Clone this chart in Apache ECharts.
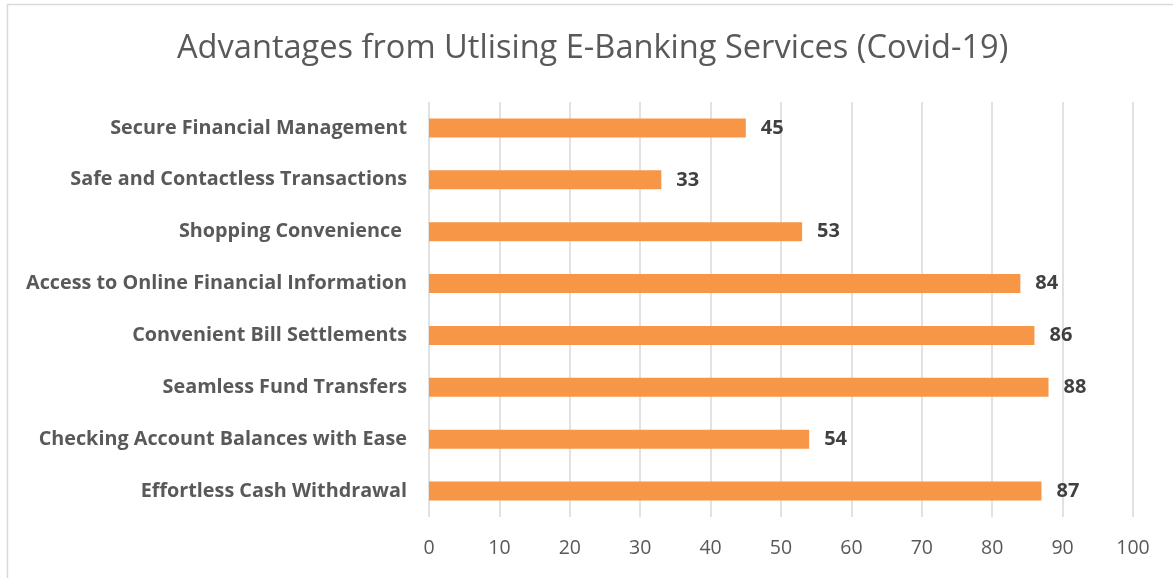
<!DOCTYPE html>
<html><head><meta charset="utf-8">
<script src="https://cdn.jsdelivr.net/npm/echarts@6/dist/echarts.min.js"></script>
<style>html,body{margin:0;padding:0;background:#fff;}#c{width:1173px;height:578px;}</style>
</head><body><div id="c"></div>
<script>
const titleText = 'Advantages from Utlising E-Banking Services (Covid-19)';
const categories = ['Effortless Cash Withdrawal','Checking Account Balances with Ease','Seamless Fund Transfers','Convenient Bill Settlements','Access to Online Financial Information','Shopping Convenience ','Safe and Contactless Transactions','Secure Financial Management'];
const values = [87,54,88,86,84,53,33,45];
const xMin = 0, xMax = 100, xStep = 10;

const chart = echarts.init(document.getElementById('c'), null, {renderer:'canvas'});
chart.setOption({
  animation:false,
  backgroundColor:'#fff',
  graphic:[{type:'rect',shape:{x:7.5,y:4.5,width:1300,height:700},style:{fill:'none',stroke:'#d9d9d9',lineWidth:1.5},silent:true,z:-1}],
  title:{text:titleText,left:172,top:27,textStyle:{fontFamily:'Open Sans',fontWeight:'normal',fontSize:32.6,color:'#595959'}},
  grid:{left:429,right:40,top:102,bottom:61,containLabel:false},
  xAxis:{type:'value',min:xMin,max:xMax,interval:xStep,
    axisLine:{show:false},axisTick:{show:false},
    splitLine:{show:true,lineStyle:{color:'#d9d9d9',width:1.5}},
    axisLabel:{margin:21,fontFamily:'Open Sans',fontSize:19.5,color:'#595959'}},
  yAxis:{type:'category',data:categories,
    axisLine:{show:false},axisTick:{show:false},
    axisLabel:{margin:22,fontFamily:'Open Sans',fontWeight:'bold',fontSize:19.8,color:'#595959'}},
  series:[{type:'bar',data:values,barWidth:19,
    itemStyle:{color:'#F79646'},
    label:{show:true,position:'right',distance:15,fontFamily:'Open Sans',fontWeight:'bold',fontSize:20,color:'#404040'}}]
});
</script></body></html>
